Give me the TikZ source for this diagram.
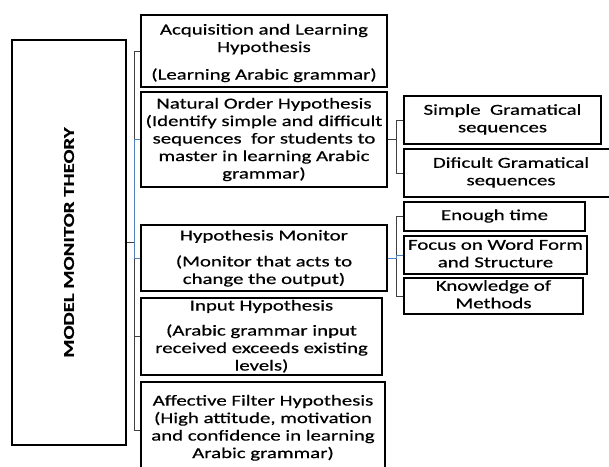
\documentclass[tikz,border=0pt]{standalone}
\usepackage{fontspec}
\setmainfont{Carlito}[FakeStretch=1.37,FakeBold=0.5]
\newcommand\mmfixls{\lineskiplimit-100pt\relax\lineskip0pt\relax}
\begin{document}
\begin{tikzpicture}[x=1pt,y=-1pt,
  fnt/.style={font={\fontsize{15.2}{17.5}\selectfont\mmfixls}},
  box/.style={draw=black, line width=1.6pt, inner sep=0pt, align=center, fnt},
  txt/.style={inner sep=0pt, align=center, fnt},
  lbl/.style={inner sep=0pt, font={\fontsize{15.2}{17.5}\selectfont\bfseries}},
  con/.style={draw=black!75, line width=0.8pt},
  hl/.style={draw={rgb,255:red,79;green,129;blue,189}, line width=1pt}]
\useasboundingbox (0,0) rectangle (609,466);
\clip (0,0) rectangle (609,466);
\fill[white] (0,0) rectangle (609,466);

% left box
\node[box, minimum width=114, minimum height=405] (lb) at (69,242.5) {};
\node[lbl, rotate=90] (lbt) at (lb.center) {MODEL MONITOR THEORY};

% main column boxes
\node[box, minimum width=246, minimum height=72] (b1) at (264,51) {};
\node[box, minimum width=246, minimum height=95] (b2) at (264,139.5) {};
\node[box, minimum width=246, minimum height=66] (b3) at (264,258) {};
\node[box, minimum width=241, minimum height=77] (b4) at (261.5,336.5) {};
\node[box, minimum width=244, minimum height=96] (b5) at (263,430) {};

% main column texts
\node[txt] (t1) at (264,53.5)
  {\strut\smash{Acquisition and Learning}\\Hypothesis\\[10pt]\smash{(Learning Arabic grammar)}\strut};
\node[txt] (t2) at (264,140)
  {\strut\smash{Natural Order Hypothesis}\\(Identify simple and difficult\\sequences\ \ for students to\\master in learning Arabic\\\smash{grammar)}\strut};
\node[txt] (t3) at (264,258.7)
  {\strut\smash{Hypothesis Monitor}\\[8.5pt](Monitor that acts to\\\smash{change the output)}\strut};
\node[txt] (t4) at (261.5,337)
  {\strut\smash{Input Hypothesis}\\[7.5pt](Arabic grammar input\\received exceeds existing\\\smash{levels)}\strut};
\node[txt] (t5) at (263,428.3)
  {\strut\smash{Affective Filter Hypothesis}\\(High attitude, motivation\\and confidence in learning\\\smash{Arabic grammar)}\strut};

% right column
\node[box, minimum width=197, minimum height=48] (s1) at (502.5,120)
  {\strut\smash{Simple\ \ Gramatical}\\\smash{sequences}\strut};
\node[box, minimum width=214, minimum height=48] (s2) at (511,173)
  {\strut\smash{Dificult Gramatical}\\\smash{sequences}\strut};
\node[box, minimum width=181, minimum height=29] (m1) at (494.5,216.5)
  {\strut\smash{Enough time}};
\node[box, minimum width=183, minimum height=38] (m2) at (495.5,255)
  {\strut\smash{Focus on Word Form}\\\smash{and Structure}\strut};
\node[box, minimum width=179, minimum height=36] (m3) at (493.5,296)
  {\strut\smash{Knowledge of}\\\smash{Methods}\strut};

% connectors
\coordinate (t) at (134,0);
\coordinate (r) at (396,0);
\draw[con] (b1.west) -- (b1.west -| t) -- (b5.west -| t) -- (b5.west);
\draw[con] (b4.west) -- (b4.west -| t);
\draw[con] (lb.east) -- (lb.east -| t);
\draw[hl] (b2.west) -- (b2.west -| t) -- (b3.west -| t) -- (b3.west);

\draw[con] (s1.west) -- (s1.west -| r) -- (s2.west -| r) -- (s2.west);
\draw[con] (b2.east) -- (b2.east -| r);
\draw[con] (m1.west) -- (m1.west -| r) -- (m3.west -| r) -- (m3.west);
\draw[hl] (b3.east) -- (b3.east -| r) |- (m2.west);
\end{tikzpicture}
\end{document}
